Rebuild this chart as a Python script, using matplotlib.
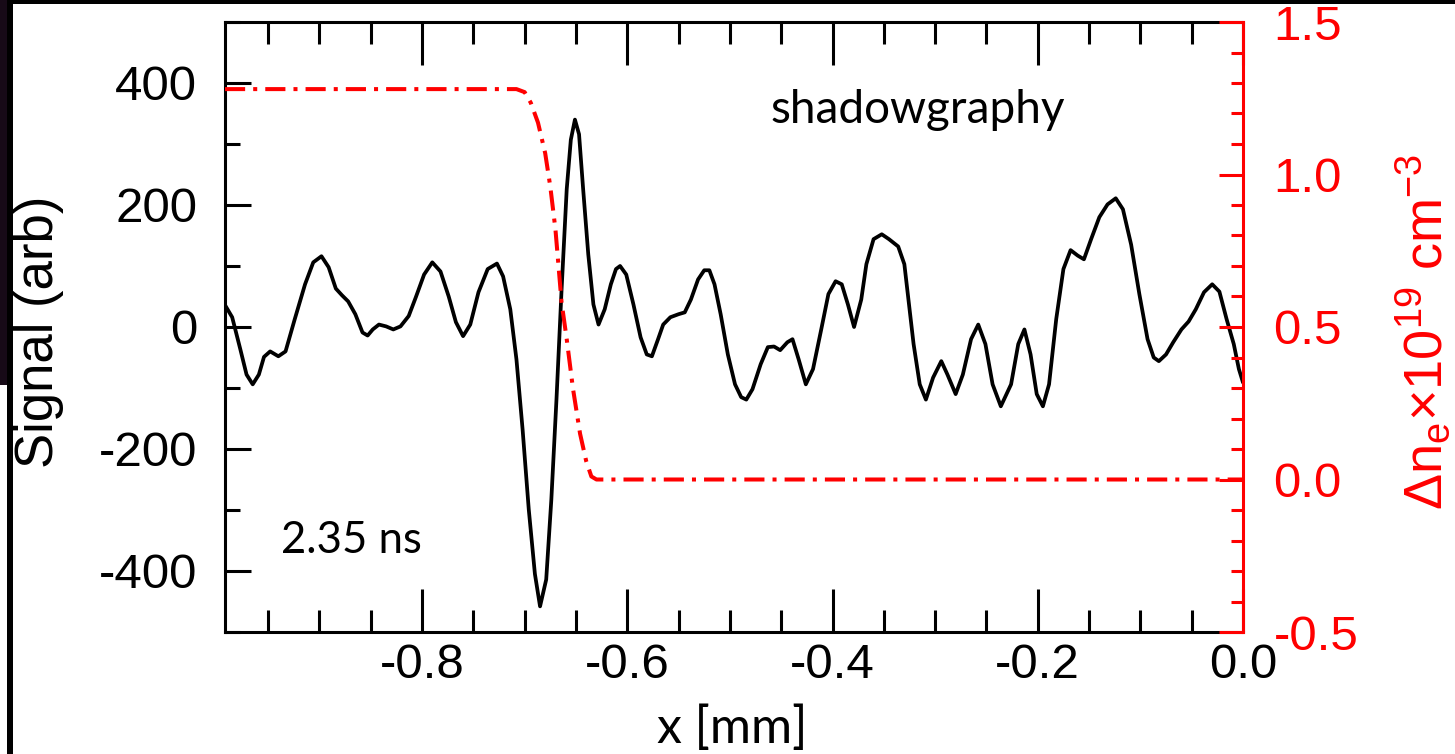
import matplotlib
matplotlib.use('Agg')
import matplotlib.pyplot as plt
from matplotlib.ticker import MultipleLocator
from matplotlib.patches import Rectangle

plt.rcParams['font.family'] = ['Liberation Sans', 'DejaVu Sans']
plt.rcParams['mathtext.fontset'] = 'custom'
plt.rcParams['mathtext.rm'] = 'Liberation Sans'
plt.rcParams['mathtext.it'] = 'Liberation Sans:italic'
plt.rcParams['mathtext.bf'] = 'Liberation Sans:bold'

# ---------------- data ----------------
signal_x = [-0.992, -0.985, -0.977, -0.971, -0.965, -0.959, -0.954, -0.948, -0.940, -0.933,
            -0.924, -0.914, -0.906, -0.898, -0.891, -0.884, -0.878, -0.872, -0.865, -0.858,
            -0.853, -0.848, -0.842, -0.835, -0.828, -0.821, -0.813, -0.806, -0.798, -0.790,
            -0.782, -0.774, -0.767, -0.760, -0.753, -0.745, -0.736, -0.727, -0.721, -0.714,
            -0.708, -0.702, -0.696, -0.690, -0.685, -0.679, -0.674, -0.669, -0.664, -0.659,
            -0.655, -0.651, -0.647, -0.643, -0.638, -0.633, -0.628, -0.622, -0.616, -0.611,
            -0.607, -0.601, -0.594, -0.587, -0.581, -0.576, -0.570, -0.565, -0.558, -0.550,
            -0.544, -0.538, -0.531, -0.525, -0.520, -0.515, -0.509, -0.502, -0.495, -0.489,
            -0.484, -0.478, -0.470, -0.463, -0.457, -0.451, -0.444, -0.439, -0.433, -0.426,
            -0.419, -0.411, -0.404, -0.397, -0.391, -0.385, -0.379, -0.372, -0.367, -0.360,
            -0.352, -0.345, -0.336, -0.330, -0.326, -0.321, -0.315, -0.309, -0.302, -0.294,
            -0.288, -0.280, -0.273, -0.265, -0.258, -0.251, -0.244, -0.236, -0.226, -0.219,
            -0.213, -0.207, -0.201, -0.195, -0.189, -0.182, -0.175, -0.168, -0.161, -0.155,
            -0.148, -0.140, -0.132, -0.124, -0.117, -0.109, -0.101, -0.093, -0.087, -0.082,
            -0.075, -0.068, -0.060, -0.053, -0.046, -0.038, -0.030, -0.023, -0.016, -0.009,
            -0.004, 0.0]
signal_y = [36, 16, -37, -78, -94, -78, -49, -40, -48, -40,
            13, 70, 106, 116, 98, 63, 52, 42, 21, -9,
            -14, -4, 4, 1, -4, 1, 18, 49, 86, 106,
            91, 50, 8, -15, 4, 57, 95, 104, 83, 29,
            -53, -168, -299, -405, -458, -414, -283, -119, 62, 226,
            307, 340, 316, 226, 119, 37, 4, 29, 70, 95,
            100, 86, 37, -17, -45, -48, -20, 4, 16, 21,
            24, 45, 78, 93, 93, 70, 21, -45, -94, -115,
            -119, -102, -61, -33, -32, -38, -25, -20, -53, -94,
            -69, -4, 54, 75, 70, 37, 0, 45, 103, 144,
            152, 144, 132, 103, 45, -28, -94, -119, -83, -56,
            -78, -110, -78, -20, 4, -28, -94, -130, -94, -28,
            -4, -45, -110, -130, -94, 13, 95, 126, 117, 111,
            144, 180, 201, 211, 193, 135, 54, -20, -50, -56,
            -45, -25, -4, 9, 29, 57, 70, 58, 13, -28,
            -69, -91]

density_x = [-0.992, -0.708, -0.700, -0.694, -0.687, -0.680, -0.675, -0.670, -0.667,
             -0.664, -0.659, -0.653, -0.646, -0.640, -0.635, -0.630, 0.0]
density_y = [1.28, 1.28, 1.27, 1.235, 1.17, 1.07, 0.96, 0.82, 0.70,
             0.58, 0.46, 0.30, 0.15, 0.06, 0.01, 0.0, 0.0]

x_ticks = [-0.8, -0.6, -0.4, -0.2, 0.0]
x_tick_labels = ['-0.8', '-0.6', '-0.4', '-0.2', '0.0']
left_ticks = [-400, -200, 0, 200, 400]
left_tick_labels = ['-400', '-200', '0', '200', '400']
right_ticks = [-0.5, 0.0, 0.5, 1.0, 1.5]
right_tick_labels = ['-0.5', '0.0', '0.5', '1.0', '1.5']

x_label = 'x [mm]'
left_label = 'Signal (arb)'
right_label = 'Δn$_\\mathrm{e}$×10$^{19}$ cm$^{-3}$'
annot_top = 'shadowgraphy'
annot_time = '2.35 ns'

# ---------------- figure ----------------
W, H = 1455, 754
fig = plt.figure(figsize=(W / 100, H / 100), dpi=100)
fig.patch.set_facecolor('white')

L, R, T, B = 225, 1243, 22, 632
ax = fig.add_axes([L / W, 1 - B / H, (R - L) / W, (B - T) / H])
ax2 = ax.twinx()

ax.plot(signal_x, signal_y, color='black', lw=2.7, solid_joinstyle='round',
        solid_capstyle='round', zorder=3)
ax2.plot(density_x, density_y, color='#ff0000', lw=2.9,
         linestyle=(0, (5.0, 2.0, 1.0, 2.0)), zorder=3)

ax.set_xlim(-0.992, 0.0)
ax.set_ylim(-500, 500)
ax2.set_ylim(-0.5, 1.5)

ax.set_xticks(x_ticks)
ax.set_xticklabels(x_tick_labels)
ax.xaxis.set_minor_locator(MultipleLocator(0.05))
ax.set_yticks(left_ticks)
ax.set_yticklabels(left_tick_labels)
ax.yaxis.set_minor_locator(MultipleLocator(100))
ax2.set_yticks(right_ticks)
ax2.set_yticklabels(right_tick_labels)
ax2.yaxis.set_minor_locator(MultipleLocator(0.1))

sw = 2.2
ax.tick_params(axis='x', which='both', direction='in', top=True, bottom=True,
               width=sw, labelsize=35.5, pad=8, color='black')
ax.tick_params(axis='x', which='major', length=31)
ax.tick_params(axis='x', which='minor', length=16)
ax.tick_params(axis='y', which='both', direction='in', left=True, right=False,
               width=sw, labelsize=35.5, pad=20)
ax.tick_params(axis='y', which='major', length=19)
ax.tick_params(axis='y', which='minor', length=11)
ax2.tick_params(axis='y', which='both', direction='in', right=True, left=False,
                width=sw, labelsize=35.5, pad=22, colors='#ff0000')
ax2.tick_params(axis='y', which='major', length=17)
ax2.tick_params(axis='y', which='minor', length=9)

for s in ['left', 'top', 'bottom']:
    ax.spines[s].set_linewidth(sw)
    ax.spines[s].set_color('black')
    ax2.spines[s].set_visible(False)
ax.spines['right'].set_visible(False)
ax2.spines['right'].set_color('#ff0000')
ax2.spines['right'].set_linewidth(sw)

# axis labels
fig.text(53 / W, 1 - 332 / H, left_label, rotation=90, rotation_mode='anchor',
         ha='center', va='baseline', fontsize=38, color='black')
fig.text(1442 / W, 1 - 332 / H, right_label, rotation=90, rotation_mode='anchor',
         ha='center', va='baseline', fontsize=39, color='#ff0000')
fig.text(732 / W, 1 - 743 / H, x_label, family=['Lato', 'DejaVu Sans'],
         fontsize=36, ha='center', va='baseline')

# annotations
fig.text(918 / W, 1 - 123 / H, annot_top, family=['Lato', 'DejaVu Sans'],
         fontsize=33, ha='center', va='baseline')
fig.text(351 / W, 1 - 553 / H, annot_time, family=['Lato', 'DejaVu Sans'],
         fontsize=31.5, ha='center', va='baseline')

# slide border remnants
fig.patches.append(Rectangle((0, 1 - 4 / H), 1, 4 / H, transform=fig.transFigure,
                             facecolor='black', edgecolor='none'))
fig.patches.append(Rectangle((0, 1 - 385 / H), 12 / W, 385 / H, transform=fig.transFigure,
                             facecolor='#170a17', edgecolor='none'))
fig.patches.append(Rectangle((7 / W, 0), 6 / W, 1, transform=fig.transFigure,
                             facecolor='black', edgecolor='none'))

fig.savefig('out.png', dpi=100)
